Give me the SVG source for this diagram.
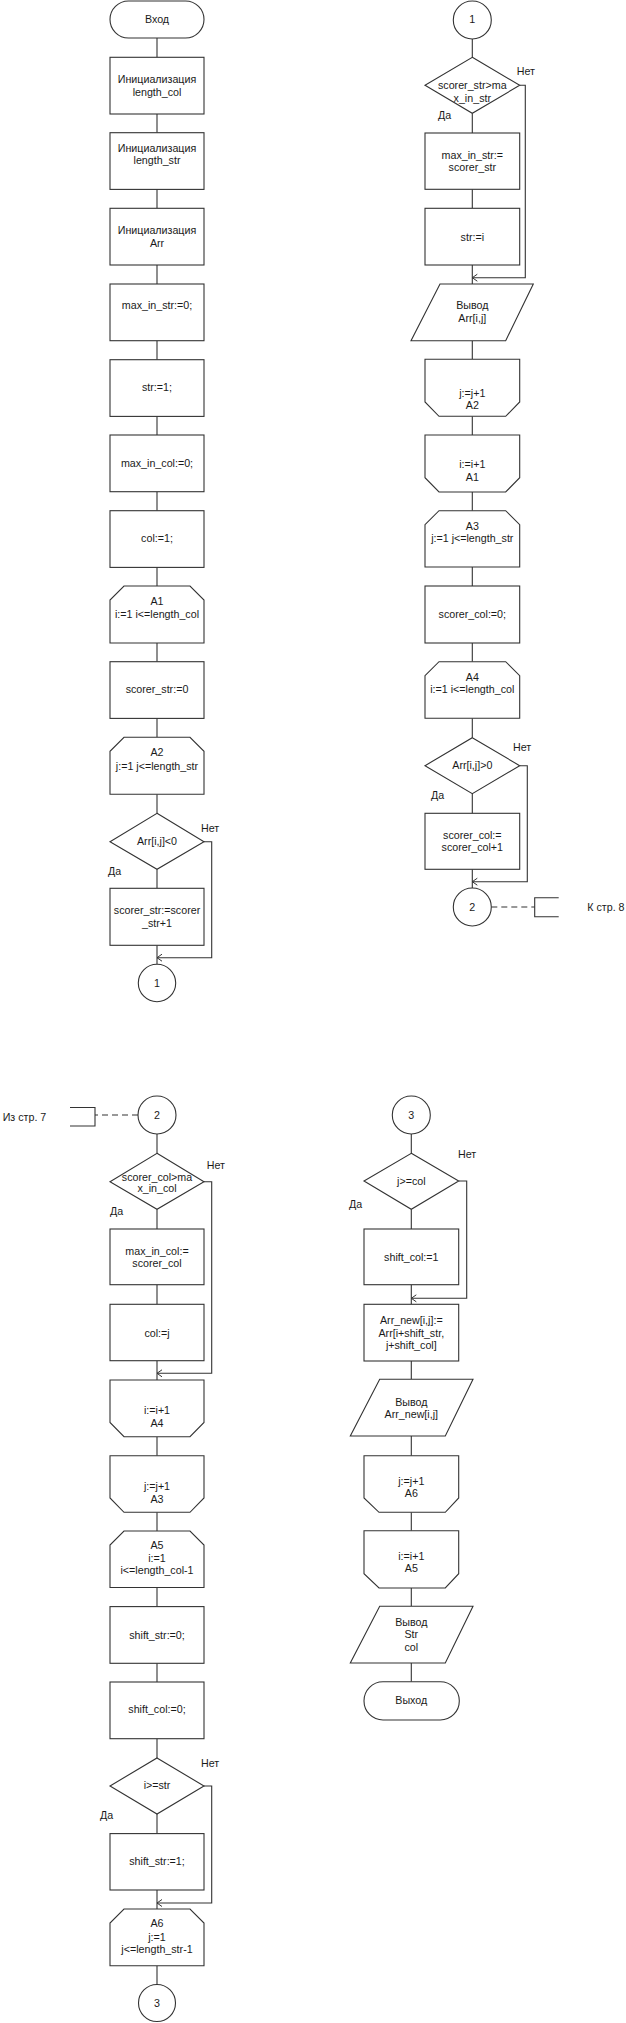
<svg xmlns="http://www.w3.org/2000/svg" width="626" height="2023" viewBox="0 0 626 2023">
<defs>
<style>
.s{fill:#fff;stroke:#333;stroke-width:1.1}
.c{fill:none;stroke:#333;stroke-width:1.1}
.d{fill:none;stroke:#333;stroke-width:1.1;stroke-dasharray:6 4}
text{font-family:"Liberation Sans",Arial,sans-serif;font-size:10.7px;fill:#1a1a1a}
.m{text-anchor:middle}
</style>
<marker id="ar" markerUnits="userSpaceOnUse" markerWidth="10" markerHeight="10" viewBox="-6 -5 7 10" refX="0" refY="0" orient="auto">
<path d="M-5,-3.5 L0,0 L-5,3.5" fill="none" stroke="#333" stroke-width="1"/>
</marker>
</defs>
<rect width="626" height="2023" fill="#fff"/>

<g id="connectors">
<!-- page 1 left -->
<path class="c" d="M157,38 V57.3 M157,114 V132.7 M157,189.3 V208.3 M157,265 V284 M157,340.7 V359.7 M157,416 V435 M157,491.7 V510.7 M157,567 V586 M157,643 V661.7 M157,718.3 V737.3 M157,794.3 V813.3 M157,869.3 V888.3 M157,945.3 V964.3"/>
<polyline class="c" points="204,841.7 211.7,841.7 211.7,957.7 157,957.7" marker-end="url(#ar)"/>
<!-- page 1 right -->
<path class="c" d="M472.3,39 V57.3 M472.3,113.3 V133 M472.3,189.3 V208.3 M472.3,265 V284 M472.3,340.7 V359.3 M472.3,416.3 V435 M472.3,492 V510.7 M472.3,567 V586 M472.3,643 V661.7 M472.3,718.3 V737.7 M472.3,793.7 V813.3 M472.3,869.3 V888"/>
<polyline class="c" points="519.7,85.3 525.3,85.3 525.3,277.7 472.3,277.7" marker-end="url(#ar)"/>
<polyline class="c" points="519.7,765.7 527.3,765.7 527.3,881.7 472.3,881.7" marker-end="url(#ar)"/>
<path class="d" d="M491.3,907 H534.7"/>
<!-- page 2 left -->
<path class="d" d="M138,1115 H95"/>
<path class="c" d="M157,1134 V1153.3 M157,1209.3 V1229 M157,1284.7 V1304.3 M157,1360.7 V1380 M157,1436.7 V1455.7 M157,1512.3 V1531 M157,1587.5 V1606.6 M157,1663.3 V1682 M157,1738.7 V1758 M157,1814 V1833.6 M157,1890 V1909 M157,1965.7 V1984.5"/>
<polyline class="c" points="204,1181.7 211.7,1181.7 211.7,1373.3 157,1373.3" marker-end="url(#ar)"/>
<polyline class="c" points="204,1786 211.7,1786 211.7,1903 157,1903" marker-end="url(#ar)"/>
<!-- page 2 right -->
<path class="c" d="M411.3,1134 V1153.3 M411.3,1209.3 V1229 M411.3,1284.7 V1304.3 M411.3,1361 V1379.3 M411.3,1436 V1455.7 M411.3,1512.3 V1530.7 M411.3,1588 V1606.3 M411.3,1663 V1681.7"/>
<polyline class="c" points="458.7,1181 466.7,1181 466.7,1298.3 411.3,1298.3" marker-end="url(#ar)"/>
</g>

<!-- ===== Page 1 left ===== -->
<g id="start"><rect class="s" x="110" y="1" width="94" height="37" rx="18.5"/><text class="m" x="157" y="22.8">Вход</text></g>
<g id="init_col"><rect class="s" x="110" y="57.3" width="94" height="56.7"/><text class="m" x="157" y="83.3">Инициализация</text><text class="m" x="157" y="95.8">length_col</text></g>
<g id="init_str"><rect class="s" x="110" y="132.7" width="94" height="56.7"/><text class="m" x="157" y="151.5">Инициализация</text><text class="m" x="157" y="163.8">length_str</text></g>
<g id="init_arr"><rect class="s" x="110" y="208.3" width="94" height="56.7"/><text class="m" x="157" y="233.8">Инициализация</text><text class="m" x="157" y="246.5">Arr</text></g>
<g id="max_in_str0"><rect class="s" x="110" y="284" width="94" height="56.7"/><text class="m" x="157" y="308.8">max_in_str:=0;</text></g>
<g id="str1"><rect class="s" x="110" y="359.7" width="94" height="56.7"/><text class="m" x="157" y="390.5">str:=1;</text></g>
<g id="max_in_col0"><rect class="s" x="110" y="435" width="94" height="56.7"/><text class="m" x="157" y="467.1">max_in_col:=0;</text></g>
<g id="col1"><rect class="s" x="110" y="510.7" width="94" height="56.7"/><text class="m" x="157" y="542.1">col:=1;</text></g>
<g id="loopA1"><path class="s" d="M124,586 H190 L204,600 V643 H110 V600 Z"/><text class="m" x="157" y="604.8">A1</text><text class="m" x="157" y="618.1">i:=1 i&lt;=length_col</text></g>
<g id="scorer_str0"><rect class="s" x="110" y="661.7" width="94" height="56.7"/><text class="m" x="157" y="693.1">scorer_str:=0</text></g>
<g id="loopA2"><path class="s" d="M124,737.3 H190 L204,751.3 V794.3 H110 V751.3 Z"/><text class="m" x="157" y="756.1">A2</text><text class="m" x="157" y="769.5">j:=1 j&lt;=length_str</text></g>
<g id="cond1"><path class="s" d="M157,813.3 L204,841.7 L157,869.3 L110,841.7 Z"/><text class="m" x="157" y="844.5">Arr[i,j]&lt;0</text><text x="201" y="831.8">Нет</text><text x="108" y="874.5">Да</text></g>
<g id="scorer_inc"><rect class="s" x="110" y="888.3" width="94" height="57"/><text class="m" x="157" y="913.8">scorer_str:=scorer</text><text class="m" x="157" y="926.5">_str+1</text></g>
<g id="conn1a"><circle class="s" cx="157" cy="983" r="18.7"/><text class="m" x="157" y="986.5">1</text></g>

<!-- ===== Page 1 right ===== -->
<g id="conn1b"><circle class="s" cx="472.3" cy="20" r="19"/><text class="m" x="472.3" y="22.5">1</text></g>
<g id="cond2"><path class="s" d="M472.3,57.3 L519.7,85.3 L472.3,113.3 L425,85.3 Z"/><text class="m" x="472.3" y="89.1">scorer_str&gt;ma</text><text class="m" x="472.3" y="101.5">x_in_str</text><text x="516.7" y="74.8">Нет</text><text x="438" y="118.8">Да</text></g>
<g id="max_in_str_set"><rect class="s" x="425" y="133" width="94.7" height="56.3"/><text class="m" x="472.3" y="158.8">max_in_str:=</text><text class="m" x="472.3" y="170.5">scorer_str</text></g>
<g id="str_i"><rect class="s" x="425" y="208.3" width="94.7" height="56.7"/><text class="m" x="472.3" y="240.5">str:=i</text></g>
<g id="out_arr"><path class="s" d="M440,284 H533.3 L505.7,340.7 H411 Z"/><text class="m" x="472.3" y="308.8">Вывод</text><text class="m" x="472.3" y="322.1">Arr[i,j]</text></g>
<g id="endA2"><path class="s" d="M425,359.3 H519.7 V402 L505.7,416.3 H439 L425,402 Z"/><text class="m" x="472.3" y="396.5">j:=j+1</text><text class="m" x="472.3" y="408.8">A2</text></g>
<g id="endA1"><path class="s" d="M425,435 H519.7 V477.7 L505.7,492 H439 L425,477.7 Z"/><text class="m" x="472.3" y="467.8">i:=i+1</text><text class="m" x="472.3" y="480.5">A1</text></g>
<g id="loopA3"><path class="s" d="M439,510.7 H505.7 L519.7,524.7 V567 H425 V524.7 Z"/><text class="m" x="472.3" y="529.8">A3</text><text class="m" x="472.3" y="542.1">j:=1 j&lt;=length_str</text></g>
<g id="scorer_col0"><rect class="s" x="425" y="586" width="94.7" height="57"/><text class="m" x="472.3" y="617.8">scorer_col:=0;</text></g>
<g id="loopA4"><path class="s" d="M439,661.7 H505.7 L519.7,675.7 V718.3 H425 V675.7 Z"/><text class="m" x="472.3" y="680.5">A4</text><text class="m" x="472.3" y="693.1">i:=1 i&lt;=length_col</text></g>
<g id="cond3"><path class="s" d="M472.3,737.7 L519.7,765.7 L472.3,793.7 L425,765.7 Z"/><text class="m" x="472.3" y="768.8">Arr[i,j]&gt;0</text><text x="513" y="750.5">Нет</text><text x="431" y="798.8">Да</text></g>
<g id="scorer_col_inc"><rect class="s" x="425" y="813.3" width="94.7" height="56"/><text class="m" x="472.3" y="838.8">scorer_col:=</text><text class="m" x="472.3" y="851.1">scorer_col+1</text></g>
<g id="conn2a"><circle class="s" cx="472.3" cy="907" r="19"/><text class="m" x="472.3" y="910.8">2</text><path class="c" d="M558.7,897.7 H534.7 V916.7 H558.7"/><text x="587.3" y="910.5">К стр. 8</text></g>

<!-- ===== Page 2 left ===== -->
<g id="conn2b"><circle class="s" cx="157" cy="1115" r="19"/><text class="m" x="157" y="1118.8">2</text><path class="c" d="M70,1107.5 H95 V1126 H70"/><text x="2.7" y="1120.5">Из стр. 7</text></g>
<g id="cond4"><path class="s" d="M157,1153.3 L204,1181.7 L157,1209.3 L110,1181.7 Z"/><text class="m" x="157" y="1180.5">scorer_col&gt;ma</text><text class="m" x="157" y="1192.1">x_in_col</text><text x="206.7" y="1168.8">Нет</text><text x="110" y="1214.5">Да</text></g>
<g id="max_in_col_set"><rect class="s" x="110" y="1229" width="94" height="55.7"/><text class="m" x="157" y="1254.8">max_in_col:=</text><text class="m" x="157" y="1267.1">scorer_col</text></g>
<g id="col_j"><rect class="s" x="110" y="1304.3" width="94" height="56.4"/><text class="m" x="157" y="1337.1">col:=j</text></g>
<g id="endA4"><path class="s" d="M110,1380 H204 V1422.5 L190,1436.7 H124 L110,1422.5 Z"/><text class="m" x="157" y="1413.8">i:=i+1</text><text class="m" x="157" y="1427.1">A4</text></g>
<g id="endA3"><path class="s" d="M110,1455.7 H204 V1498 L190,1512.3 H124 L110,1498 Z"/><text class="m" x="157" y="1489.8">j:=j+1</text><text class="m" x="157" y="1502.8">A3</text></g>
<g id="loopA5"><path class="s" d="M124,1531 H190 L204,1545 V1587.5 H110 V1545 Z"/><text class="m" x="157" y="1549.3">A5</text><text class="m" x="157" y="1561.8">i:=1</text><text class="m" x="157" y="1574.3">i&lt;=length_col-1</text></g>
<g id="shift_str0"><rect class="s" x="110" y="1606.6" width="94" height="56.7"/><text class="m" x="157" y="1639.1">shift_str:=0;</text></g>
<g id="shift_col0"><rect class="s" x="110" y="1682" width="94" height="56.7"/><text class="m" x="157" y="1713.4">shift_col:=0;</text></g>
<g id="cond5"><path class="s" d="M157,1758 L204,1786 L157,1814 L110,1786 Z"/><text class="m" x="157" y="1788.8">i&gt;=str</text><text x="201" y="1766.6">Нет</text><text x="100" y="1819.4">Да</text></g>
<g id="shift_str1"><rect class="s" x="110" y="1833.6" width="94" height="56.4"/><text class="m" x="157" y="1864.8">shift_str:=1;</text></g>
<g id="loopA6"><path class="s" d="M124,1909 H190 L204,1923 V1965.7 H110 V1923 Z"/><text class="m" x="157" y="1927.2">A6</text><text class="m" x="157" y="1940.8">j:=1</text><text class="m" x="157" y="1953.3">j&lt;=length_str-1</text></g>
<g id="conn3a"><circle class="s" cx="157" cy="2003" r="18.5"/><text class="m" x="157" y="2006.8">3</text></g>

<!-- ===== Page 2 right ===== -->
<g id="conn3b"><circle class="s" cx="411.3" cy="1115" r="19"/><text class="m" x="411.3" y="1118.8">3</text></g>
<g id="cond6"><path class="s" d="M411.3,1153.3 L458.7,1181 L411.3,1209.3 L364,1181 Z"/><text class="m" x="411.3" y="1184.8">j&gt;=col</text><text x="458" y="1157.8">Нет</text><text x="349" y="1207.8">Да</text></g>
<g id="shift_col1"><rect class="s" x="364" y="1229" width="94.7" height="55.7"/><text class="m" x="411.3" y="1260.5">shift_col:=1</text></g>
<g id="arr_new"><rect class="s" x="364" y="1304.3" width="94.7" height="56.7"/><text class="m" x="411.3" y="1323.8">Arr_new[i,j]:=</text><text class="m" x="411.3" y="1336.5">Arr[i+shift_str,</text><text class="m" x="411.3" y="1349.1">j+shift_col]</text></g>
<g id="out_arr_new"><path class="s" d="M379.7,1379.3 H473 L445.3,1436 H350.3 Z"/><text class="m" x="411.3" y="1405.5">Вывод</text><text class="m" x="411.3" y="1418.1">Arr_new[i,j]</text></g>
<g id="endA6"><path class="s" d="M364,1455.7 H458.7 V1498 L445.3,1512.3 H379 L364,1498 Z"/><text class="m" x="411.3" y="1484.5">j:=j+1</text><text class="m" x="411.3" y="1497.1">A6</text></g>
<g id="endA5"><path class="s" d="M364,1530.7 H458.7 V1573.7 L445.3,1588 H379 L364,1573.7 Z"/><text class="m" x="411.3" y="1559.8">i:=i+1</text><text class="m" x="411.3" y="1572.1">A5</text></g>
<g id="out_str_col"><path class="s" d="M379.7,1606.3 H473 L445.3,1663 H350.3 Z"/><text class="m" x="411.3" y="1625.5">Вывод</text><text class="m" x="411.3" y="1638.1">Str</text><text class="m" x="411.3" y="1651.1">col</text></g>
<g id="end"><rect class="s" x="364" y="1681.7" width="95.3" height="38.3" rx="19"/><text class="m" x="411.3" y="1703.8">Выход</text></g>
</svg>
